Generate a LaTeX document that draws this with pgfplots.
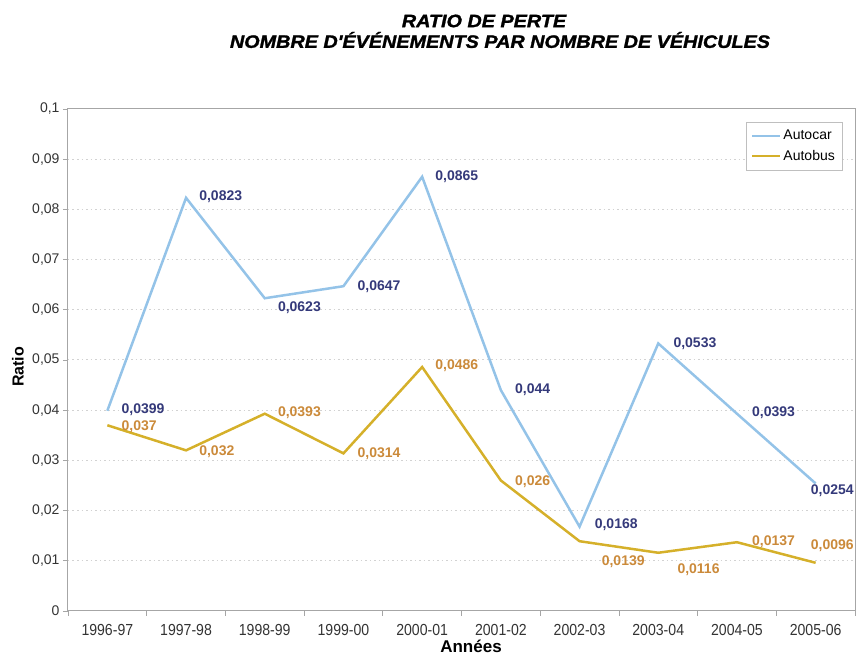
\documentclass[border=0pt]{standalone}
\usepackage{pgfplots}
\usepackage{pgfplotstable}
\pgfplotsset{compat=1.18}
\usepackage{fontspec}
\setmainfont{Liberation Sans}
\newfontfamily\narrowfont[FakeStretch=0.88]{Liberation Sans}
\newfontfamily\titlefont[FakeStretch=1.1, FakeBold=1.5]{Liberation Sans}
\definecolor{carline}{HTML}{94C3E8}
\definecolor{busline}{HTML}{D5B02A}
\definecolor{carlab}{HTML}{34397A}
\definecolor{buslab}{HTML}{CB8A3A}

\pgfplotstableread{
x y lbl dx dy
0 0.0399 0,0399 13 1
1 0.0823 0,0823 12 1
2 0.0623 0,0623 12 -9
3 0.0647 0,0647 13 0
4 0.0865 0,0865 12 0
5 0.044 0,044 13 0
6 0.0168 0,0168 14 2
7 0.0533 0,0533 14 0
8 0.0393 0,0393 14 1
9 0.0254 0,0254 -6 -7
}\autocar

\pgfplotstableread{
x y lbl dx dy
0 0.037 0,037 13 -1
1 0.032 0,032 12 -1
2 0.0393 0,0393 12 1
3 0.0314 0,0314 13 0
4 0.0486 0,0486 12 1
5 0.026 0,026 13 -1
6 0.0139 0,0139 21 -20
7 0.0116 0,0116 18 -17
8 0.0137 0,0137 14 1
9 0.0096 0,0096 -6 17
}\autobus

\begin{document}
\begin{tikzpicture}
\begin{axis}[
  name=ax, at={(0,0)}, anchor=south west,
  scale only axis, width=787pt, height=502pt,
  xmin=-0.5, xmax=9.5, ymin=0, ymax=0.1,
  xtick={0,...,9},
  xticklabels={1996-97,1997-98,1998-99,1999-00,2000-01,2001-02,2002-03,2003-04,2004-05,2005-06},
  major x tick style={draw=none},
  minor xtick={-0.5,0.5,1.5,2.5,3.5,4.5,5.5,6.5,7.5,8.5,9.5},
  ytick={0,0.01,0.02,0.03,0.04,0.05,0.06,0.07,0.08,0.09,0.1},
  yticklabels={{0},{0,01},{0,02},{0,03},{0,04},{0,05},{0,06},{0,07},{0,08},{0,09},{0,1}},
  xtick pos=bottom, ytick pos=left,
  tick align=outside, major tick length=5pt, minor tick length=5pt,
  every tick/.style={gray!70, line width=0.8pt},
  axis line style={gray!70, line width=1pt},
  ymajorgrids,
  grid style={gray!35, dash pattern=on 1.5pt off 3pt, line width=1pt},
  xticklabel style={font=\narrowfont\fontsize{16}{16}\selectfont, text=black!80, yshift=-5pt},
  yticklabel style={font=\fontsize{14}{14}\selectfont, text=black!80},
  legend style={at={(0.9835,0.974)}, anchor=north east, draw=gray!50,
    font=\fontsize{14}{16}\selectfont, inner xsep=5pt, inner ysep=6pt, row sep=5pt},
  legend cell align=left,
  legend image code/.code={\draw[#1, line width=2pt] (0pt,0pt) -- (28pt,0pt);},
  clip=false,
]
\addplot[carline, line width=2.5pt, forget plot,
  visualization depends on={\thisrow{dx}\as\myDx},
  visualization depends on={\thisrow{dy}\as\myDy},
  point meta=explicit symbolic,
  nodes near coords={\pgfplotspointmeta},
  every node near coord/.append style={anchor=west, inner sep=0pt,
    xshift=\myDx pt, yshift=\myDy pt, font=\bfseries\fontsize{14}{14}\selectfont, text=carlab}
] table[x=x, y=y, meta=lbl] {\autocar};
\addplot[busline, line width=2.5pt, forget plot,
  visualization depends on={\thisrow{dx}\as\myDx},
  visualization depends on={\thisrow{dy}\as\myDy},
  point meta=explicit symbolic,
  nodes near coords={\pgfplotspointmeta},
  every node near coord/.append style={anchor=west, inner sep=0pt,
    xshift=\myDx pt, yshift=\myDy pt, font=\bfseries\fontsize{14}{14}\selectfont, text=buslab}
] table[x=x, y=y, meta=lbl] {\autobus};
\addlegendimage{carline}
\addlegendentry{Autocar}
\addlegendimage{busline}
\addlegendentry{Autobus}
\end{axis}
\node[font=\titlefont\bfseries\itshape\fontsize{18}{18}\selectfont] at (416pt,590pt) {RATIO DE PERTE};
\node[font=\titlefont\bfseries\itshape\fontsize{18}{18}\selectfont] at (432pt,571pt) {NOMBRE D'ÉVÉNEMENTS PAR NOMBRE DE VÉHICULES};
\node[font=\bfseries\fontsize{16}{16}\selectfont, rotate=90] at (-50pt,244pt) {Ratio};
\node[font=\bfseries\fontsize{17}{17}\selectfont] at (403pt,-35pt) {Années};
\pgfresetboundingbox
\path[use as bounding box] (-68pt,-44pt) rectangle (789pt,611pt);
\end{tikzpicture}
\end{document}
